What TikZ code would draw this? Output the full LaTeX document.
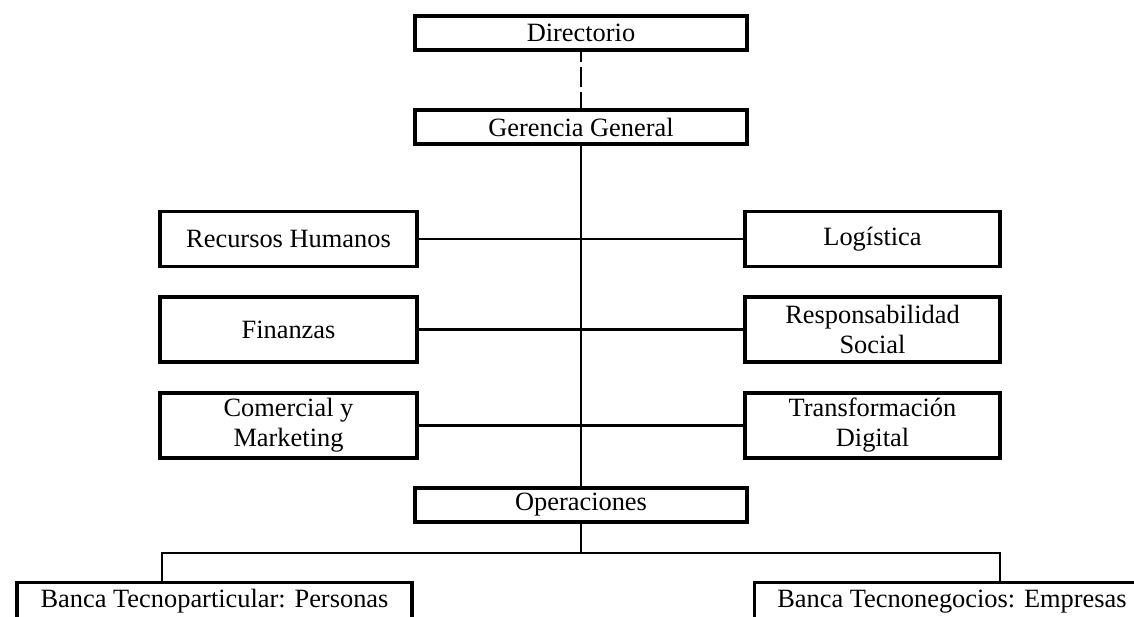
\documentclass[tikz,border=0pt]{standalone}
\usepackage{fontspec}
\setmainfont{Liberation Serif}
\begin{document}
\begin{tikzpicture}[x=0.5pt,y=-0.5pt,
  unit/.style={draw=black, line width=1.6pt, fill=white, inner sep=0pt,
    align=center, font=\fontsize{13.2}{15}\selectfont},
  link/.style={draw=black, line width=1.25pt},
  dashlink/.style={link, dash pattern=on 10pt off 2.5pt, dash phase=5pt}]
\useasboundingbox (0,0) rectangle (1134,616);
\clip (0,0) rectangle (1134,616);

% top of the hierarchy
\node[unit, minimum width=166pt, minimum height=17pt] (dir) at (581,33) {Directorio};
\node[unit, minimum width=166pt, minimum height=17pt] (ger) at (581,127) {Gerencia General};
\node[unit, minimum width=166pt, minimum height=17pt] (ops) at (581,505) {Operaciones};

% staff areas, left column
\node[unit, minimum width=128.5pt, minimum height=27.5pt] (rh)  at (288.5,239) {Recursos Humanos};
\node[unit, minimum width=128.5pt, minimum height=32.5pt] (fin) at (288.5,329.5) {Finanzas};
\node[unit, minimum width=128.5pt, minimum height=32.5pt] (com) at (288.5,425.5) {Comercial y\\Marketing};

% staff areas, right column
\node[unit, minimum width=127.5pt, minimum height=27.5pt] (log) at (872.5,239) {Logística};
\node[unit, minimum width=127.5pt, minimum height=32.5pt] (rs)  at (872.5,329.5) {Responsabilidad\\Social};
\node[unit, minimum width=127.5pt, minimum height=32.5pt] (td)  at (872.5,425.5) {Transformación\\Digital};

% business units (their lower edges run past the page)
\node[unit, minimum width=197.5pt, minimum height=19pt] (bp) at (214.5,601.5) {Banca Tecnoparticular: Personas};
\node[unit, minimum width=197.5pt, minimum height=19pt] (be) at (952,601.5) {Banca Tecnonegocios: Empresas};

\coordinate (busL) at (162,553);
\coordinate (busR) at (1000,553);

% connectors
\draw[dashlink] (dir.south) -- (ger.north);
\draw[link] (ger.south) -- (ops.north);
\draw[link] (rh.east) -- (log.west);
\draw[link] (fin.east) -- (rs.west);
\draw[link] (com.east) -- (td.west);
\draw[link] (ops.south) -- (ops.south |- busL);
\draw[link] (busL |- bp.north) -- (busL) -- (busR) -- (busR |- be.north);
\end{tikzpicture}
\end{document}
